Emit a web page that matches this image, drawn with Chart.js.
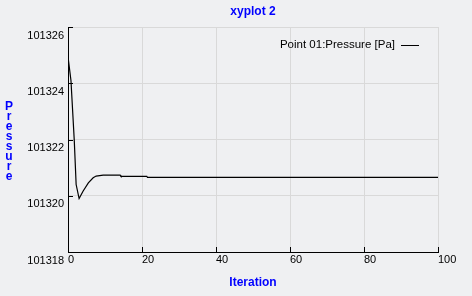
<!DOCTYPE html>
<html>
<head>
<meta charset="utf-8">
<script src="https://cdn.jsdelivr.net/npm/chart.js@4"></script>
<style>
  html, body { margin: 0; padding: 0; background: #eff0f2; }
  #wrap { width: 472px; height: 296px; }
</style>
</head>
<body>
<div id="wrap"><canvas id="myChart" width="472" height="296"></canvas></div>
<script>
// values
var iterations = [0, 0.8, 1.7, 2.2, 3.0, 4.1, 5.5, 6.8, 7.6, 9.5, 14.1, 14.3, 21.3, 21.5, 100];
var pressure = [101324.95, 101324.1, 101321.95, 101320.4, 101319.9, 101320.17, 101320.46,
                101320.64, 101320.7, 101320.73, 101320.73, 101320.69, 101320.69, 101320.65, 101320.65];
var seriesName = "Point 01:Pressure [Pa]";
var chartTitle = "xyplot 2";
var yTitle = "Pressure";

var points = [];
for (var i = 0; i < iterations.length; i++) {
  points.push({x: iterations[i], y: pressure[i]});
}

var blue = "#0000ff";
var gridColor = "#d9d9d9";

// title over the plot, vertical stacked letters for the y title, inward ticks, legend
var extras = {
  id: 'extras',
  afterDraw: function (chart) {
    var ctx = chart.ctx;
    var area = chart.chartArea;
    var xs = chart.scales.x, ys = chart.scales.y;
    ctx.save();

    ctx.fillStyle = blue;
    ctx.font = "bold 12px 'Liberation Sans'";
    ctx.textAlign = "center";
    ctx.textBaseline = "middle";
    ctx.fillText(chartTitle, (area.left + area.right) / 2, 12);

    // y title, one letter per row
    var mid = (area.top + area.bottom) / 2 + 2;
    for (var k = 0; k < yTitle.length; k++) {
      ctx.fillText(yTitle[k], 9, mid + (k - (yTitle.length - 1) / 2) * 10);
    }

    // inward ticks
    ctx.strokeStyle = "#000";
    ctx.lineWidth = 1;
    ctx.beginPath();
    ys.ticks.forEach(function (t) {
      var py = Math.round(ys.getPixelForValue(t.value)) + 0.5;
      ctx.moveTo(area.left, py);
      ctx.lineTo(area.left + 5, py);
    });
    xs.ticks.forEach(function (t) {
      var px = Math.round(xs.getPixelForValue(t.value)) + 0.5;
      ctx.moveTo(px, area.bottom);
      ctx.lineTo(px, area.bottom - 5);
    });
    ctx.stroke();

    // legend
    var ly = area.top + 18;
    ctx.fillStyle = "#000";
    ctx.font = "11.5px 'Liberation Sans'";
    ctx.textAlign = "right";
    ctx.fillText(chart.data.datasets[0].label, area.right - 43, ly);
    ctx.beginPath();
    ctx.moveTo(area.right - 37, Math.round(ly) + 0.5);
    ctx.lineTo(area.right - 19, Math.round(ly) + 0.5);
    ctx.stroke();
    ctx.restore();
  }
};

var ctx = document.getElementById("myChart").getContext("2d");
var myChart = new Chart(ctx, {
  type: 'line',
  data: {
    datasets: [{
      label: seriesName,
      data: points,
      borderColor: "#000",
      borderWidth: 1.2,
      pointRadius: 0,
      tension: 0,
      fill: false
    }]
  },
  options: {
    responsive: false,
    animation: false,
    layout: { padding: { left: 0, right: 34, top: 27, bottom: 0 } },
    plugins: {
      legend: { display: false },
      tooltip: { enabled: false },
      title: { display: false }
    },
    scales: {
      x: {
        type: 'linear',
        min: 0,
        max: 100,
        afterFit: function (scale) { scale.height = 44; },
        ticks: {
          stepSize: 20,
          align: 'start',
          padding: 1,
          color: "#000",
          maxRotation: 0,
          font: { family: "'Liberation Sans'", size: 11 }
        },
        grid: { color: gridColor, drawTicks: false },
        border: { color: "#000", width: 1 },
        title: {
          display: true,
          text: "Iteration",
          color: blue,
          font: { family: "'Liberation Sans'", size: 12, weight: 'bold' },
          padding: { top: 0, bottom: 6 }
        }
      },
      y: {
        min: 101318,
        max: 101326,
        afterFit: function (scale) { scale.width = 68; },
        ticks: {
          stepSize: 2,
          align: 'start',
          padding: 4,
          labelOffset: 3,
          color: "#000",
          font: { family: "'Liberation Sans'", size: 11 },
          callback: function (v) { return String(v); }
        },
        grid: { color: gridColor, drawTicks: false },
        border: { color: "#000", width: 1 }
      }
    }
  },
  plugins: [extras]
});
</script>
</body>
</html>
